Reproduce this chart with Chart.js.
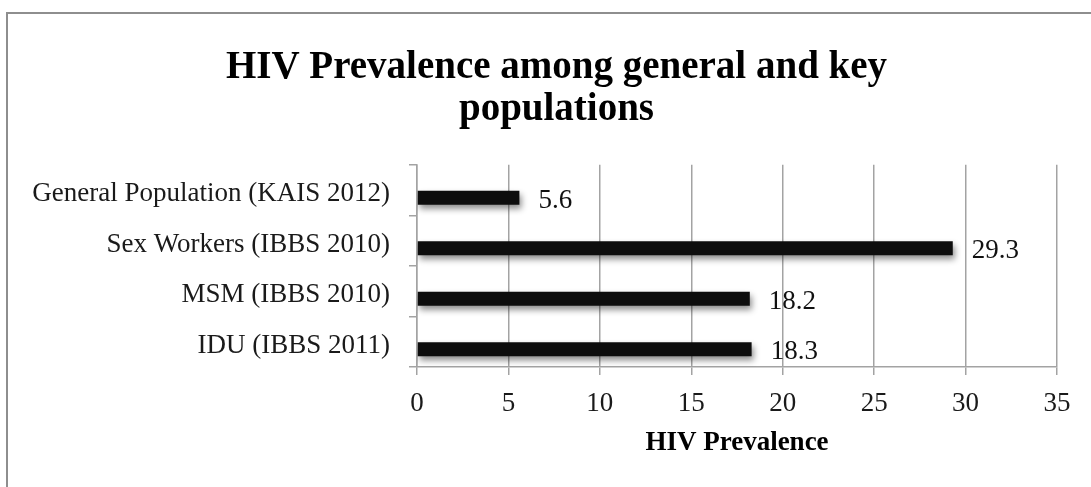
<!DOCTYPE html>
<html>
<head>
<meta charset="utf-8">
<title>HIV Prevalence among general and key populations</title>
<script src="https://cdn.jsdelivr.net/npm/chart.js@4/dist/chart.umd.min.js"></script>
<style>
  html, body { margin: 0; padding: 0; background: #ffffff; overflow: hidden; }
  #wrap { position: relative; width: 1091px; height: 487px; }
  #frame {
    position: absolute; left: 6px; top: 12px; width: 1200px; height: 700px;
    border: 2px solid #8e8e8e; box-sizing: border-box;
  }
  #chart { position: absolute; left: 0; top: 0; }
</style>
</head>
<body>
<div id="wrap">
  <div id="frame"></div>
  <canvas id="chart" width="1091" height="487"></canvas>
</div>
<script>
// Survey groups (top to bottom) and their HIV prevalence, in percent
const categories = [
  'General Population (KAIS 2012)',
  'Sex Workers (IBBS 2010)',
  'MSM (IBBS 2010)',
  'IDU (IBBS 2011)'
];
const prevalence = [5.6, 29.3, 18.2, 18.3];
// Second, empty series of the source workbook (keeps the bar slot layout)
const emptySeries = [null, null, null, null];
const xTicks = [0, 5, 10, 15, 20, 25, 30, 35];

const serif = "'Liberation Serif', 'Times New Roman', serif";

// The title is centred on the whole chart frame, which is wider than the plot
const titleCentre = {
  id: 'titleCentre',
  afterLayout(chart) {
    const t = chart.titleBlock;
    if (t) { t.left = 56; }
  }
};

// Soft drop shadow under the bars
const barShadow = {
  id: 'barShadow',
  beforeDatasetDraw(chart) {
    const ctx = chart.ctx;
    ctx.save();
    ctx.shadowColor = 'rgba(0,0,0,0.45)';
    ctx.shadowBlur = 6;
    ctx.shadowOffsetX = 2;
    ctx.shadowOffsetY = 4;
  },
  afterDatasetDraw(chart) {
    chart.ctx.restore();
  }
};

// Value labels to the right of each bar
const valueLabels = {
  id: 'valueLabels',
  afterDatasetsDraw(chart) {
    const ctx = chart.ctx;
    ctx.save();
    ctx.font = '27px ' + serif;
    ctx.fillStyle = '#111111';
    ctx.textAlign = 'left';
    ctx.textBaseline = 'middle';
    chart.data.datasets.forEach((ds, di) => {
      const meta = chart.getDatasetMeta(di);
      meta.data.forEach((bar, i) => {
        const v = ds.data[i];
        if (v === null || v === undefined) return;
        ctx.fillText(String(v), bar.x + 19, bar.y + 3);
      });
    });
    ctx.restore();
  }
};

new Chart(document.getElementById('chart'), {
  type: 'bar',
  data: {
    labels: categories,
    datasets: [
      {
        label: 'Series 2',
        data: emptySeries,
        backgroundColor: '#0d0d0d'
      },
      {
        label: 'HIV Prevalence',
        data: prevalence,
        backgroundColor: '#0d0d0d',
        borderWidth: 0
      }
    ]
  },
  options: {
    indexAxis: 'y',
    responsive: false,
    animation: false,
    events: [],
    categoryPercentage: 0.6,
    barPercentage: 0.92,
    layout: { padding: { top: 20, left: 0, right: 34, bottom: 0 } },
    plugins: {
      legend: { display: false },
      tooltip: { enabled: false },
      title: {
        display: true,
        text: ['HIV Prevalence among general and key', 'populations'],
        color: '#000000',
        font: { family: serif, size: 39, weight: 'bold', lineHeight: 1.1 },
        padding: { top: 26, bottom: 33 }
      }
    },
    scales: {
      x: {
        type: 'linear',
        min: 0,
        max: 35,
        afterBuildTicks(scale) {
          scale.ticks = xTicks.map(v => ({ value: v }));
        },
        afterFit(scale) { scale.height = 120; },
        grid: {
          color: '#a3a3a3',
          lineWidth: 1.5,
          drawTicks: true,
          tickLength: 8,
          tickColor: '#a3a3a3'
        },
        border: { display: true, color: '#a3a3a3', width: 1.5 },
        ticks: {
          color: '#1a1a1a',
          font: { family: serif, size: 27 },
          padding: 13,
          maxRotation: 0
        },
        title: {
          display: true,
          text: 'HIV Prevalence',
          color: '#000000',
          font: { family: serif, size: 27, weight: 'bold' },
          padding: { top: 0, bottom: 28 }
        }
      },
      y: {
        type: 'category',
        afterFit(scale) { scale.width = 417; },
        grid: {
          drawOnChartArea: false,
          drawTicks: true,
          tickLength: 8,
          tickColor: '#a3a3a3',
          lineWidth: 1.5,
          offset: true
        },
        border: { display: true, color: '#a3a3a3', width: 1.5 },
        ticks: {
          color: '#1a1a1a',
          font: { family: serif, size: 27 },
          padding: 19,
          labelOffset: 4
        }
      }
    }
  },
  plugins: [titleCentre, barShadow, valueLabels]
});
</script>
</body>
</html>
